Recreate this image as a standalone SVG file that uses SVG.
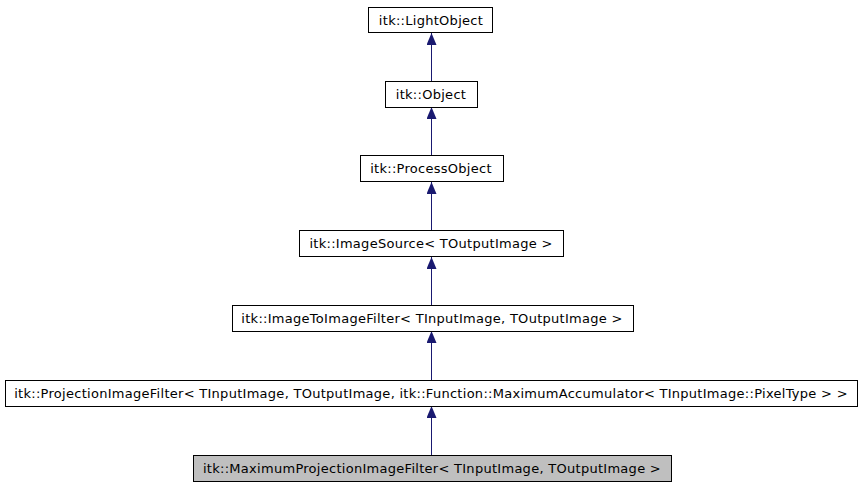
<svg xmlns="http://www.w3.org/2000/svg" width="861" height="485" viewBox="0 0 861 485">
<style>
.n rect{fill:#fff;stroke:#000;stroke-width:1}
.n.hl rect{fill:#bfbfbf}
.n text{font-family:"DejaVu Sans",sans-serif;font-size:13px;letter-spacing:0.28px;fill:#000;text-anchor:middle}
.e{stroke:#191970;stroke-width:1;fill:none}
</style>
<defs>
<marker id="a" viewBox="0 0 12 10" refX="12" refY="5" markerWidth="12" markerHeight="10" markerUnits="userSpaceOnUse" orient="auto">
<path d="M0,0 L12,5 L0,10 Z" fill="#191970"/>
</marker>
</defs>
<g id="connectors">
<line class="e" x1="431.5" y1="82" x2="431.5" y2="33" marker-end="url(#a)"/>
<line class="e" x1="431.5" y1="156" x2="431.5" y2="107" marker-end="url(#a)"/>
<line class="e" x1="431.5" y1="231" x2="431.5" y2="182" marker-end="url(#a)"/>
<line class="e" x1="431.5" y1="305" x2="431.5" y2="257" marker-end="url(#a)"/>
<line class="e" x1="431.5" y1="380" x2="431.5" y2="331" marker-end="url(#a)"/>
<line class="e" x1="431.5" y1="455" x2="431.5" y2="406" marker-end="url(#a)"/>
</g>
<g id="n1" class="n"><rect x="368.5" y="7.5" width="124" height="25"/><text x="431" y="25">itk::LightObject</text></g>
<g id="n2" class="n"><rect x="385.5" y="81.5" width="92" height="26"/><text x="431" y="99">itk::Object</text></g>
<g id="n3" class="n"><rect x="360.5" y="155.5" width="143" height="26"/><text x="431" y="173">itk::ProcessObject</text></g>
<g id="n4" class="n"><rect x="299.5" y="230.5" width="264" height="26"/><text x="431" y="248">itk::ImageSource&lt; TOutputImage &gt;</text></g>
<g id="n5" class="n"><rect x="232.5" y="305.5" width="401" height="26"/><text x="432" y="323">itk::ImageToImageFilter&lt; TInputImage, TOutputImage &gt;</text></g>
<g id="n6" class="n"><rect x="5.5" y="380.5" width="852" height="26"/><text x="431" y="398">itk::ProjectionImageFilter&lt; TInputImage, TOutputImage, itk::Function::MaximumAccumulator&lt; TInputImage::PixelType &gt; &gt;</text></g>
<g id="n7" class="n hl"><rect x="193.5" y="455.5" width="478" height="26"/><text x="432" y="473">itk::MaximumProjectionImageFilter&lt; TInputImage, TOutputImage &gt;</text></g>
</svg>
